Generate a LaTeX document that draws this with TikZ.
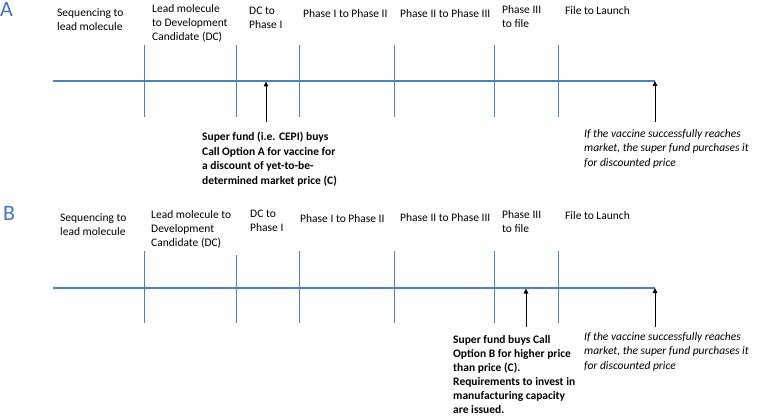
\documentclass[tikz,border=0pt]{standalone}
\usepackage{fontspec}
\setmainfont{Carlito}
\usetikzlibrary{arrows.meta}
\definecolor{tl}{RGB}{79,129,189}
\definecolor{lettercol}{RGB}{68,114,196}
\begin{document}
\begin{tikzpicture}[x=1pt,y=-1pt,
  phase/.style={anchor=north west,inner sep=0pt,align=left,font=\fontsize{11.5}{14}\selectfont},
  note/.style={phase,font=\fontsize{11.5}{14.5}\selectfont\bfseries},
  inote/.style={phase,font=\fontsize{11.5}{14.5}\selectfont\itshape},
  panel/.style={anchor=north west,inner sep=0pt,text=lettercol,font=\fontsize{22}{24}\selectfont},
  tline/.style={draw=tl,line width=1.2pt},
  tick/.style={draw=tl,line width=1pt},
  arr/.style={draw=black,line width=1pt,-{Triangle[length=5pt,width=4.5pt]}}]
\useasboundingbox (0,0) rectangle (758,417);

% ---------- Panel A ----------
\node[panel] (la) at (0,2) {A};
\node[phase] (a1) at (57,8) {Sequencing to\\lead molecule};
\node[phase] (a2) at (152,4) {Lead molecule\\to Development\\Candidate (DC)};
\node[phase] (a3) at (249,7) {DC to\\Phase I};
\node[phase] (a4) at (303,9) {Phase I to Phase II};
\node[phase] (a5) at (400,9) {Phase II to Phase III};
\node[phase] (a6) at (502,5) {Phase III\\to file};
\node[phase] (a7) at (565,6) {File to Launch};

\coordinate (aL) at (53,81);
\coordinate (aR) at (655,81);
\draw[tline] (aL) -- (aR);
\foreach \x [count=\i] in {144,236,299,394,494,558}{
  \coordinate (at\i) at (\x,45);
  \coordinate (ab\i) at (\x,117);
  \draw[tick] (at\i) -- (ab\i);
}
\coordinate (aa1s) at (266,122);
\coordinate (aa1e) at (266,81.5);
\draw[arr] (aa1s) -- (aa1e);
\coordinate (aa2s) at (655,122);
\draw[arr] (aa2s) -- (aR);

\node[note] (an1) at (202,132) {Super fund (i.e. CEPI) buys\\Call Option A for vaccine for\\a discount of yet-to-be-\\determined market price (C)};
\node[inote] (an2) at (584,129) {If the vaccine successfully reaches\\market, the super fund purchases it\\for discounted price};

% ---------- Panel B ----------
\node[panel] (lb) at (3,206) {B};
\node[phase] (b1) at (60,213) {Sequencing to\\lead molecule};
\node[phase] (b2) at (151,210) {Lead molecule to\\Development\\Candidate (DC)};
\node[phase] (b3) at (250,210) {DC to\\Phase I};
\node[phase] (b4) at (300,214) {Phase I to Phase II};
\node[phase] (b5) at (400,213) {Phase II to Phase III};
\node[phase] (b6) at (502,210) {Phase III\\to file};
\node[phase] (b7) at (565,211) {File to Launch};

\coordinate (bL) at (53,288);
\coordinate (bR) at (655,288);
\draw[tline] (bL) -- (bR);
\foreach \x/\t [count=\i] in {144/251,236/255,299/251,394/251,494/251,558/251}{
  \coordinate (bt\i) at (\x,\t);
  \coordinate (bb\i) at (\x,323);
  \draw[tick] (bt\i) -- (bb\i);
}
\coordinate (ba1s) at (526,327);
\coordinate (ba1e) at (526,288.5);
\draw[arr] (ba1s) -- (ba1e);
\coordinate (ba2s) at (655,327);
\draw[arr] (ba2s) -- (bR);

\node[note,font=\fontsize{11.5}{14}\selectfont\bfseries] (bn1) at (453,335) {Super fund buys Call\\Option B for higher price\\than price (C).\\Requirements to invest in\\manufacturing capacity\\are issued.};
\node[inote] (bn2) at (584,332) {If the vaccine successfully reaches\\market, the super fund purchases it\\for discounted price};
\end{tikzpicture}
\end{document}
